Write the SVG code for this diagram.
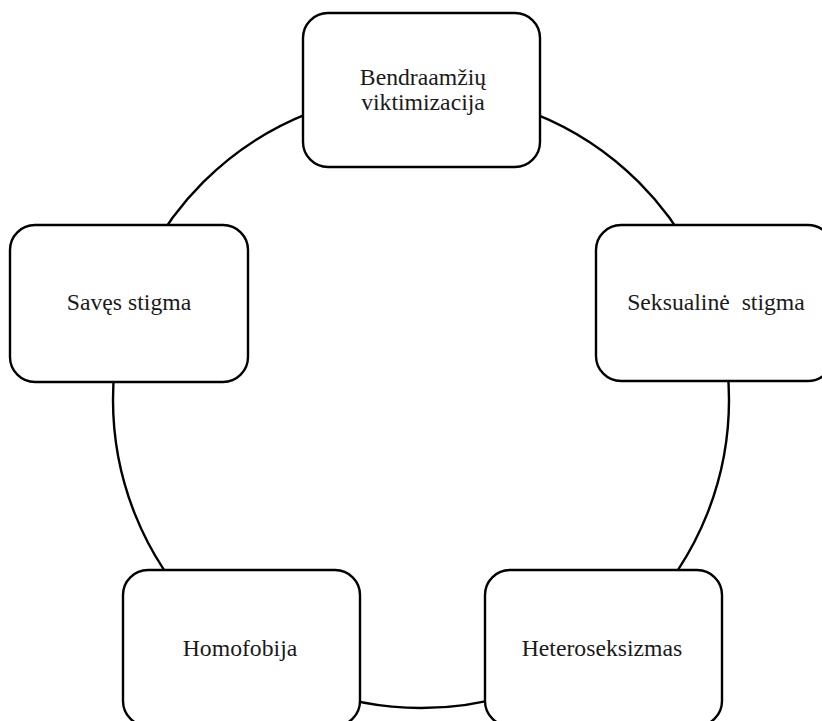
<svg xmlns="http://www.w3.org/2000/svg" width="822" height="721" viewBox="0 0 822 721">
<style>
.box{fill:#fff;stroke:#000;stroke-width:2.4}
.conn{fill:none;stroke:#000;stroke-width:2.4}
text{font-family:"Liberation Serif","Times New Roman",serif;font-size:23.7px;fill:#1a1a1a;text-anchor:middle;white-space:pre}
</style>
<rect width="822" height="721" fill="#fff"/>
<g id="connectors">
<circle class="conn" cx="421" cy="400" r="308"/>
</g>
<g id="node-bendraamziu">
<rect class="box" x="303" y="13" width="237" height="154" rx="25"/>
<text x="423" y="85">Bendraamžių</text>
<text x="423" y="110">viktimizacija</text>
</g>
<g id="node-saves">
<rect class="box" x="10" y="225" width="238" height="157" rx="25"/>
<text x="129" y="310">Savęs stigma</text>
</g>
<g id="node-seksualine">
<rect class="box" x="596" y="225" width="237" height="156" rx="25"/>
<text x="716" y="310" xml:space="preserve">Seksualinė  stigma</text>
</g>
<g id="node-homofobija">
<rect class="box" x="123" y="570" width="237" height="156" rx="25"/>
<text x="240" y="656">Homofobija</text>
</g>
<g id="node-heteroseksizmas">
<rect class="box" x="485" y="570" width="237" height="156" rx="25"/>
<text x="602" y="656">Heteroseksizmas</text>
</g>
</svg>
